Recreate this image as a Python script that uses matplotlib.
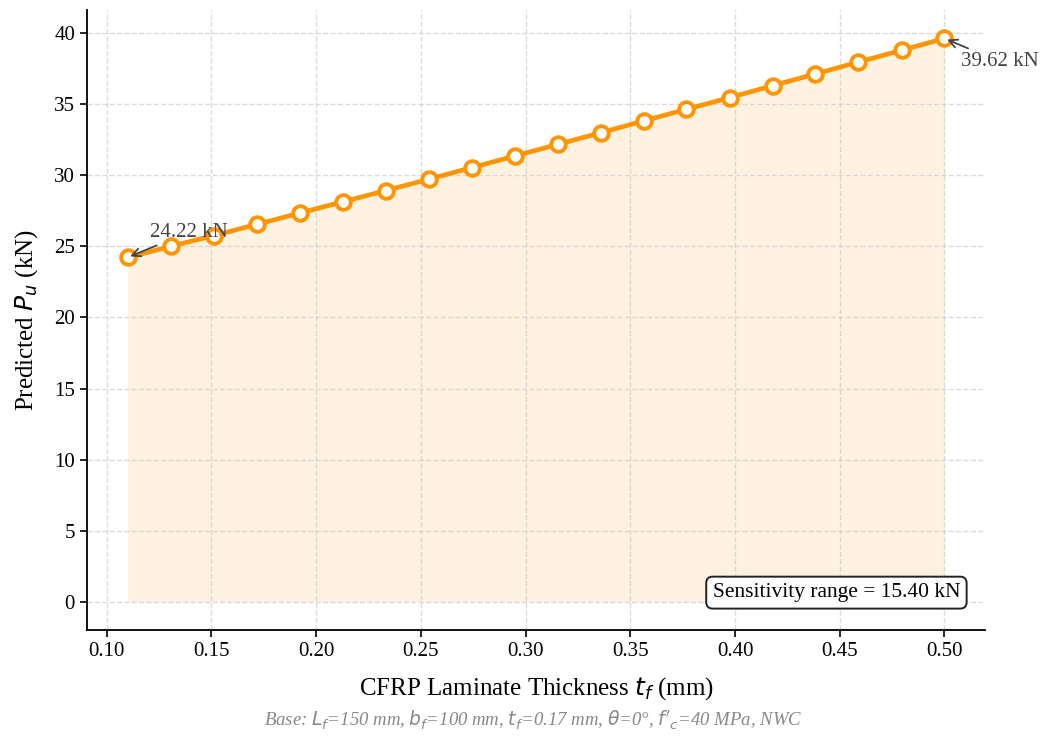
import matplotlib
matplotlib.use("Agg")
import matplotlib.pyplot as plt
import numpy as np

plt.rcParams["font.family"] = ["Liberation Serif", "DejaVu Serif"]
plt.rcParams["mathtext.fontset"] = "dejavusans"

# Sensitivity sweep: laminate thickness vs predicted capacity
t_f = [0.1100, 0.1305, 0.1511, 0.1716, 0.1921, 0.2126, 0.2332, 0.2537, 0.2742, 0.2947,
       0.3153, 0.3358, 0.3563, 0.3768, 0.3974, 0.4179, 0.4384, 0.4589, 0.4795, 0.5000]
P_u = [24.22, 25.00, 25.76, 26.54, 27.34, 28.13, 28.92, 29.72, 30.53, 31.35,
       32.17, 32.99, 33.82, 34.64, 35.46, 36.30, 37.13, 37.96, 38.79, 39.62]

ORANGE = "#FF9500"

fig = plt.figure(figsize=(10.46, 7.36), dpi=100)
ax = fig.add_axes([0.083, 0.144, 0.859, 0.842])

ax.fill_between(t_f, 0, P_u, color=ORANGE, alpha=0.12, lw=0)
ax.plot(t_f, P_u, color=ORANGE, lw=3.4, marker="o", ms=10.5,
        mfc="white", mec=ORANGE, mew=2.8, zorder=3)

arrow = dict(arrowstyle="->", color="#444444", lw=1.3)
ax.annotate(f"{P_u[0]:.2f} kN", xy=(t_f[0], P_u[0]), xytext=(16, 15),
            textcoords="offset points", fontsize=15, color="#444444",
            arrowprops=arrow)
ax.annotate(f"{P_u[-1]:.2f} kN", xy=(t_f[-1], P_u[-1]), xytext=(12, -20),
            textcoords="offset points", fontsize=15, color="#444444",
            arrowprops=arrow)

rng = P_u[-1] - P_u[0]
ax.text(0.972, 0.045, f"Sensitivity range = {rng:.2f} kN", transform=ax.transAxes,
        ha="right", va="bottom", fontsize=15.5,
        bbox=dict(boxstyle="round,pad=0.3", fc="white", ec="#222222", lw=1.4))

ax.set_xlabel(r"CFRP Laminate Thickness $t_f$ (mm)", fontsize=18, labelpad=10)
ax.set_ylabel(r"Predicted $P_u$ (kN)", fontsize=18, labelpad=10)
ax.set_xticks(np.arange(0.10, 0.501, 0.05))
ax.set_yticks(np.arange(0, 41, 5))
ax.tick_params(labelsize=15, length=5, width=1.2)
ax.grid(True, ls="--", color="#cccccc", alpha=0.7, lw=1)
ax.spines["top"].set_visible(False)
ax.spines["right"].set_visible(False)
ax.spines["left"].set_linewidth(1.3)
ax.spines["bottom"].set_linewidth(1.3)

fig.text(0.51, 0.006,
         r"Base: $L_f$=150 mm, $b_f$=100 mm, $t_f$=0.17 mm, $\theta$=0°, $f'_c$=40 MPa, NWC",
         ha="center", va="bottom", fontsize=13.5, style="italic", color="#888888")

fig.savefig("out.png", dpi=100)
